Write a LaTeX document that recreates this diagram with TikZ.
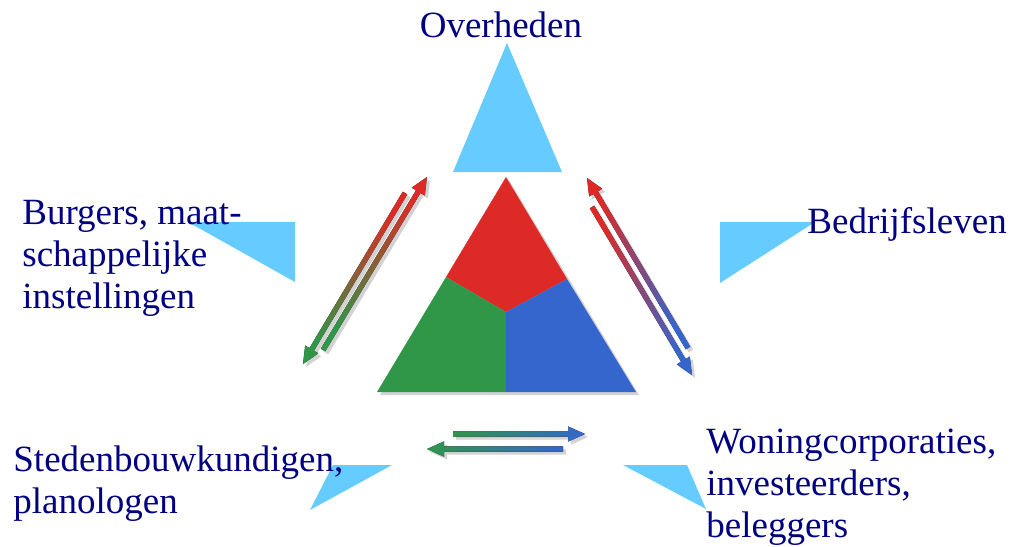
\documentclass[tikz,border=0pt]{standalone}
\usepackage{fontspec}
\setmainfont{Liberation Serif}
\usetikzlibrary{calc}
\definecolor{navy}{HTML}{000080}
\definecolor{sky}{HTML}{66CCFF}
\definecolor{rd}{RGB}{222,42,38}
\definecolor{gn}{RGB}{48,150,72}
\definecolor{bl}{RGB}{52,102,206}
\tikzset{
  lbl/.style={text=navy, inner sep=0pt, anchor=base west, align=left,
              font=\fontsize{18.5}{21}\selectfont},
  pointer/.style={fill=sky},
  shd/.style={fill=black!70, opacity=0.25,
              transform canvas={shift={(1.5pt,-1.5pt)}}},
}
\newcommand{\arrowshape}[2]{($(#1)!1.3pt!90:(#2)$) -- ($(hb)!1.3pt!90:(#2)$)
  -- ($(hb)!3.8pt!90:(#2)$) -- (#2) -- ($(hb)!3.8pt!-90:(#2)$)
  -- ($(hb)!1.3pt!-90:(#2)$) -- ($(#1)!1.3pt!-90:(#2)$) -- cycle}
\newcommand{\flowarrow}[3]{%
  \path ($(#2)!8.5pt!(#1)$) coordinate (hb);
  \fill[shd] \arrowshape{#1}{#2};
  \fill[#3] \arrowshape{#1}{#2};
}

\begin{document}
\begin{tikzpicture}[x=0.5pt, y=-0.5pt]
    \useasboundingbox (0,0) rectangle (1011,546);

    \fill[pointer] (507,43) -- (453,172) -- (562,172) -- cycle;
    \fill[pointer] (188,222) -- (295,222) -- (295,282) -- cycle;
    \fill[pointer] (720,222) -- (815,222) -- (720,283) -- cycle;
    \fill[pointer] (333,465) -- (392,465) -- (310,510) -- cycle;
    \fill[pointer] (623,465) -- (687,465) -- (706,509) -- cycle;

    \coordinate (apex) at (506,177);
    \coordinate (lft) at (377,392);
    \coordinate (rgt) at (636,392);
    \coordinate (mid) at (506,312);
    \coordinate (ml) at (446,277);
    \coordinate (mr) at (567,279);
    \coordinate (mb) at (506,392);
    \fill[shd] (apex) -- (rgt) -- (lft) -- cycle;
    \fill[rd] (apex) -- (mr) -- (mid) -- (ml) -- cycle;
    \fill[gn] (ml) -- (mid) -- (mb) -- (lft) -- cycle;
    \fill[bl] (mr) -- (rgt) -- (mb) -- (mid) -- cycle;

    \coordinate (lu0) at (323,350);
    \coordinate (lu1) at (427,177);
    \coordinate (ld0) at (405,193);
    \coordinate (ld1) at (303,364);
    \coordinate (ru0) at (688,348);
    \coordinate (ru1) at (587,178);
    \coordinate (rd0) at (592,207);
    \coordinate (rd1) at (692,375);
    \coordinate (br0) at (453,434);
    \coordinate (br1) at (585,434);
    \coordinate (bl0) at (563,449);
    \coordinate (bl1) at (427,449);
    \flowarrow{lu0}{lu1}{top color=rd, bottom color=gn, shading angle=-30}
    \flowarrow{ld0}{ld1}{top color=rd, bottom color=gn, shading angle=-30}
    \flowarrow{ru0}{ru1}{top color=rd, bottom color=bl, shading angle=31}
    \flowarrow{rd0}{rd1}{top color=rd, bottom color=bl, shading angle=31}
    \flowarrow{br0}{br1}{top color=bl, bottom color=gn, shading angle=-90}
    \flowarrow{bl0}{bl1}{top color=bl, bottom color=gn, shading angle=-90}

    \node[lbl, anchor=base] (ov) at (501,37) {Overheden};
    \node[lbl] (bu) at (22,308) {Burgers, maat-\\schappelijke\\instellingen};
    \node[lbl] (be) at (807,233) {Bedrijfsleven};
    \node[lbl] (st) at (13,513) {Stedenbouwkundigen,\\planologen};
    \node[lbl] (wo) at (706,537) {Woningcorporaties,\\investeerders,\\beleggers};
  \end{tikzpicture}
\end{document}
